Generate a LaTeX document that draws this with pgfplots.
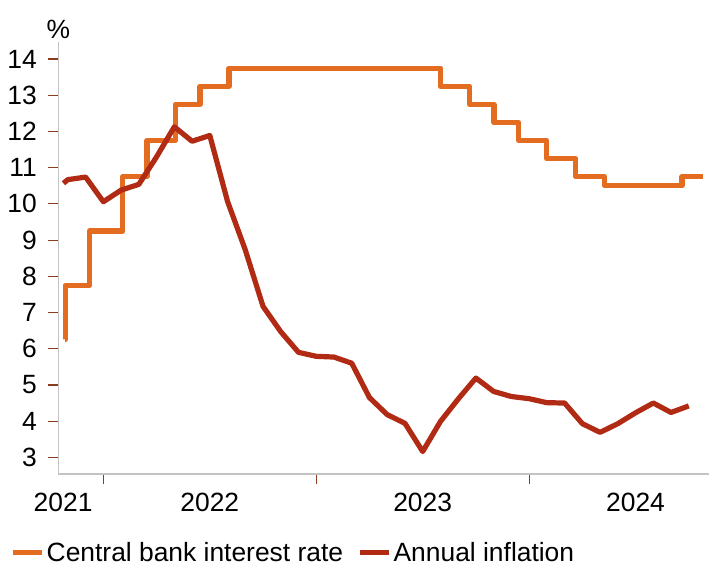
\documentclass[border=0pt]{standalone}
\usepackage{fontspec}
\setmainfont{Liberation Sans}
\usepackage{pgfplots}
\pgfplotsset{compat=1.18}
\definecolor{rate}{RGB}{228,108,33}
\definecolor{infl}{RGB}{176,42,20}
\definecolor{tickc}{RGB}{140,60,30}
\definecolor{axc}{RGB}{195,195,195}
\newcommand{\chartfont}{\fontsize{26.5}{26.5}\selectfont}
\begin{document}
\begin{tikzpicture}
\path[use as bounding box] (0,0) rectangle (709bp,566bp);
\begin{axis}[
  at={(58.3bp,92bp)}, anchor=south west,
  scale only axis, width=650.7bp, height=432.3bp,
  xmin=-2.54, xmax=34.14, ymin=2.54, ymax=14.48,
  axis x line=bottom, axis y line=left,
  axis line style={-, draw=axc, line width=1.3bp},
  clip=false,
  ytick={3,4,5,6,7,8,9,10,11,12,13,14},
  xtick={0,12,24}, xticklabels={},
  extra x ticks={-2.27,6,18,30},
  extra x tick labels={2021,2022,2023,2024},
  extra x tick style={major tick length=0pt},
  tick align=outside, major tick length=10bp,
  tick style={draw=tickc, line width=1.2bp},
  /pgf/number format/assume math mode=true,
  tick label style={font=\chartfont, text=black},
  yticklabel style={xshift=-8bp},
  xticklabel style={yshift=-16bp},
  legend style={draw=none, fill=none, at={(-0.0742,-0.1815)}, anchor=west,
    legend columns=2, font=\chartfont, inner sep=0pt,
    /tikz/every even column/.append style={column sep=12bp}},
  legend image code/.code={\draw[#1, line width=5.5bp, line cap=butt] (0bp,0bp) -- (29bp,0bp);},
]
\addplot[rate, line width=5.2bp, line join=round, const plot] coordinates {
  (-2.17,6.25) (-2.15,7.75) (-0.78,9.25) (1.10,10.75) (2.46,11.75)
  (4.06,12.75) (5.45,13.25) (7.08,13.75) (19.02,13.25) (20.65,12.75)
  (22.02,12.25) (23.42,11.75) (25.00,11.25) (26.63,10.75) (28.25,10.50)
  (32.62,10.75) (33.79,10.75)
};
\addlegendentry{Central bank interest rate}
\addplot[infl, line width=5.2bp, line join=round] coordinates {
  (-2.25,10.57) (-2,10.67) (-1,10.74) (0,10.06) (1,10.38) (2,10.54)
  (3,11.30) (4,12.13) (5,11.73) (6,11.89) (7,10.07) (8,8.73) (9,7.17)
  (10,6.47) (11,5.90) (12,5.79) (13,5.77) (14,5.60) (15,4.65) (16,4.18)
  (17,3.94) (18,3.16) (19,3.99) (20,4.61) (21,5.19) (22,4.82) (23,4.68)
  (24,4.62) (25,4.51) (26,4.50) (27,3.93) (28,3.69) (29,3.93) (30,4.23)
  (31,4.50) (32,4.24) (33,4.42)
};
\addlegendentry{Annual inflation}
\node[anchor=south, font=\chartfont, inner sep=0pt] at (rel axis cs:0,1) [yshift=3bp] {\%};
\end{axis}
\end{tikzpicture}
\end{document}
